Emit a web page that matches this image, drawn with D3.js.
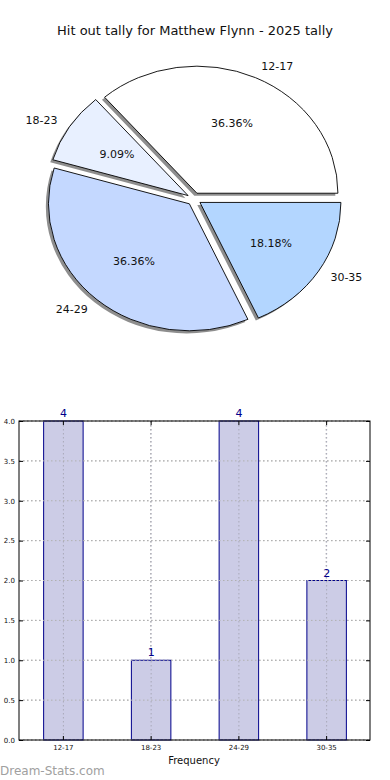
<!DOCTYPE html>
<html>
<head>
<meta charset="utf-8">
<script src="https://cdn.jsdelivr.net/npm/d3@7"></script>
<style>
  html, body { margin: 0; padding: 0; background: #fff; }
  svg { display: block; font-family: "DejaVu Sans", sans-serif; }
</style>
</head>
<body>
<svg id="chart" width="390" height="780"></svg>
<script>
const titleText = "Hit out tally for Matthew Flynn - 2025 tally";
const categories = ["12-17", "18-23", "24-29", "30-35"];
const values = [4, 1, 4, 2];
const pieColors = ["#ffffff", "#e8f0ff", "#c4d8ff", "#b3d6ff"];
const yTicks = [0, 0.5, 1, 1.5, 2, 2.5, 3, 3.5, 4];
const xLabel = "Frequency";
const watermark = "Dream-Stats.com";

const svg = d3.select("#chart");

// Title
svg.append("text").attr("x", 195).attr("y", 35).attr("text-anchor", "middle")
  .attr("font-size", 13).attr("fill", "#111").text(titleText);

// ---------- Pie ----------
const cx = 194, cy = 199, rx = 141, ry = 127, explode = 0.05;
const total = d3.sum(values);
const pie = d3.pie().sort(null).value(d => d)
  .startAngle(Math.PI / 2).endAngle(Math.PI / 2 - 2 * Math.PI);
const arcs = pie(values);
const arcGen = d3.arc().innerRadius(0).outerRadius(1);

const pieG = svg.append("g");
function wedgeOffset(a) {
  const m = (a.startAngle + a.endAngle) / 2;
  return [cx + explode * rx * Math.sin(m), cy - explode * ry * Math.cos(m), m];
}
// shadows first
arcs.forEach(a => {
  const [ox, oy] = wedgeOffset(a);
  pieG.append("path").attr("d", arcGen(a))
    .attr("transform", `translate(${ox - 2.6},${oy + 2.6}) scale(${rx},${ry})`)
    .attr("fill", "#7a7a7a").attr("fill-opacity", 0.85);
});
arcs.forEach((a, i) => {
  const [ox, oy] = wedgeOffset(a);
  pieG.append("path").attr("d", arcGen(a))
    .attr("transform", `translate(${ox},${oy}) scale(${rx},${ry})`)
    .attr("fill", pieColors[i]).attr("stroke", "#000")
    .attr("stroke-width", 0.9).attr("vector-effect", "non-scaling-stroke")
    .attr("stroke-linejoin", "miter");
});
arcs.forEach((a, i) => {
  const [ox, oy, m] = wedgeOffset(a);
  const sx = Math.sin(m), cyv = -Math.cos(m);
  const lx = ox + 1.1 * rx * sx, ly = oy + 1.1 * ry * cyv;
  pieG.append("text").attr("x", lx).attr("y", ly)
    .attr("text-anchor", sx > 0 ? "start" : "end")
    .attr("dominant-baseline", "central")
    .attr("font-size", 11).attr("fill", "#111").text(categories[i]);
  const px = ox + 0.6 * rx * sx, py = oy + 0.6 * ry * cyv;
  pieG.append("text").attr("x", px).attr("y", py)
    .attr("text-anchor", "middle").attr("dominant-baseline", "central")
    .attr("font-size", 11).attr("fill", "#111")
    .text((values[i] / total * 100).toFixed(2) + "%");
});

// ---------- Bar chart ----------
const L = 19, R = 370, T = 421, B = 740;
const x = d3.scaleBand().domain(categories).range([L, R])
  .paddingInner(0.55).paddingOuter(0.275);
const y = d3.scaleLinear().domain([0, 4]).range([B, T]);

const barG = svg.append("g");
// grid
barG.selectAll(".hg").data(yTicks).join("line")
  .attr("x1", L).attr("x2", R).attr("y1", d => y(d)).attr("y2", d => y(d))
  .attr("stroke", "#b0b0b0").attr("stroke-width", 1).attr("stroke-dasharray", "1.5,2.5");
barG.selectAll(".vg").data(categories).join("line")
  .attr("x1", d => x(d) + x.bandwidth() / 2).attr("x2", d => x(d) + x.bandwidth() / 2)
  .attr("y1", T).attr("y2", B)
  .attr("stroke", "#b0b0b0").attr("stroke-width", 1).attr("stroke-dasharray", "1.5,2.5");

// bars
barG.selectAll(".bar").data(values).join("rect")
  .attr("x", (d, i) => x(categories[i]) + 0.5)
  .attr("y", d => y(d))
  .attr("width", x.bandwidth())
  .attr("height", d => B - y(d))
  .attr("fill", "#ccccE6").attr("fill-opacity", 1)
  .attr("stroke", "#00008b").attr("stroke-width", 1);
// grid on top of bars (matplotlib draws gridlines above)
barG.selectAll(".vg2").data(categories).join("line")
  .attr("x1", d => x(d) + x.bandwidth() / 2 + 0.5).attr("x2", d => x(d) + x.bandwidth() / 2 + 0.5)
  .attr("y1", T).attr("y2", B)
  .attr("stroke", "#a8a8b8").attr("stroke-width", 1).attr("stroke-dasharray", "1.5,2.5");
barG.selectAll(".hg2").data(yTicks).join("line")
  .attr("x1", L).attr("x2", R).attr("y1", d => y(d)).attr("y2", d => y(d))
  .attr("stroke", "#b0b0b0").attr("stroke-width", 1).attr("stroke-dasharray", "1.5,2.5");

// value labels
barG.selectAll(".vl").data(values).join("text")
  .attr("x", (d, i) => x(categories[i]) + x.bandwidth() / 2 + 0.5)
  .attr("y", d => y(d) - 4)
  .attr("text-anchor", "middle").attr("font-size", 11).attr("fill", "#00008b")
  .text(d => d);

// frame
barG.append("rect").attr("x", L).attr("y", T).attr("width", R - L).attr("height", B - T)
  .attr("fill", "none").attr("stroke", "#000").attr("stroke-width", 1);

// axes
const yAxisL = d3.axisLeft(y).tickValues(yTicks).tickFormat(d3.format(".1f"))
  .tickSizeInner(-4).tickSizeOuter(0).tickPadding(4);
const gyl = barG.append("g").attr("transform", `translate(${L},0)`).call(yAxisL);
const yAxisR = d3.axisRight(y).tickValues(yTicks).tickFormat("")
  .tickSizeInner(-4).tickSizeOuter(0);
const gyr = barG.append("g").attr("transform", `translate(${R},0)`).call(yAxisR);
const xAxisB = d3.axisBottom(x).tickSizeInner(-4).tickSizeOuter(0).tickPadding(5);
const gxb = barG.append("g").attr("transform", `translate(0.5,${B})`).call(xAxisB);
const xAxisT = d3.axisTop(x).tickFormat("").tickSizeInner(-4).tickSizeOuter(0);
const gxt = barG.append("g").attr("transform", `translate(0.5,${T})`).call(xAxisT);
[gyl, gyr, gxb, gxt].forEach(g => {
  g.select(".domain").remove();
  g.selectAll("line").attr("stroke", "#000");
  g.selectAll("text").attr("font-size", 7).attr("fill", "#111")
    .attr("font-family", "DejaVu Sans, sans-serif");
});

svg.append("text").attr("x", 194).attr("y", 764).attr("text-anchor", "middle")
  .attr("font-size", 10).attr("fill", "#111").text(xLabel);

svg.append("text").attr("x", 0).attr("y", 775)
  .attr("font-size", 12).attr("fill", "#a0a0a0").text(watermark);
</script>
</body>
</html>
